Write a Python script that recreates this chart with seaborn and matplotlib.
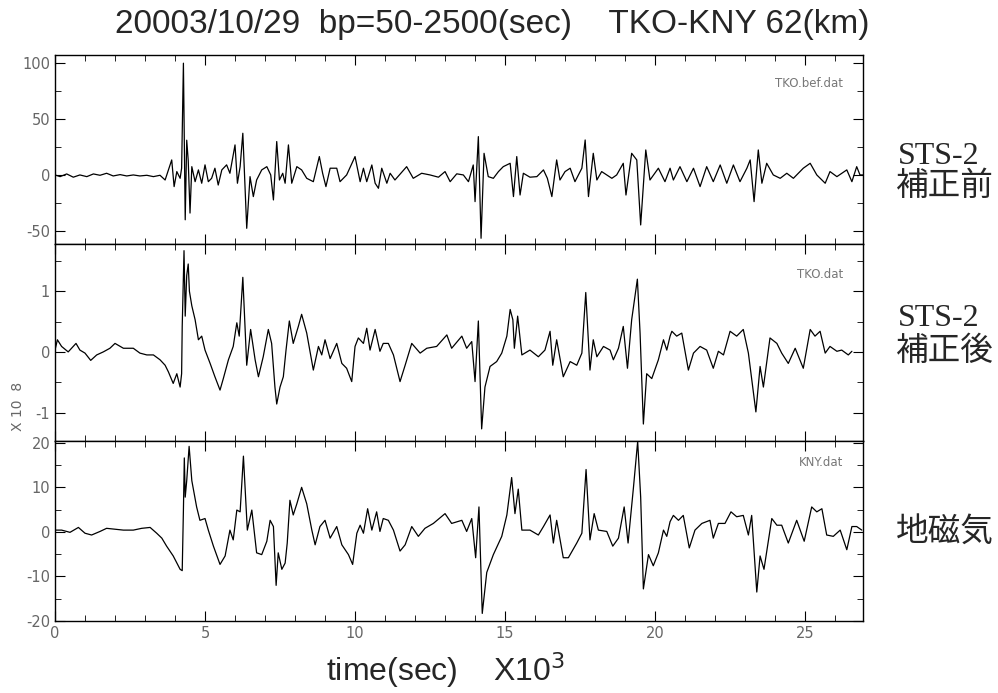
import matplotlib
matplotlib.use("Agg")
import matplotlib.pyplot as plt
from matplotlib.ticker import MultipleLocator
import seaborn as sns
import pandas as pd

# ---------------- data (time in units of 10^3 sec) ----------------
t_bef = [0, 0.17, 0.39, 0.61, 0.83, 1.06, 1.28, 1.5, 1.72, 1.94, 2.17, 2.39, 2.61, 2.83, 3.06, 3.28,
         3.5, 3.67, 3.78, 3.89, 3.97, 4.06, 4.17, 4.22, 4.28, 4.34, 4.39, 4.44, 4.5, 4.56, 4.67, 4.78,
         4.89, 5.0, 5.11, 5.22, 5.33, 5.44, 5.56, 5.72, 5.83, 6.0, 6.08, 6.17, 6.26, 6.39, 6.5, 6.61,
         6.72, 6.89, 7.06, 7.19, 7.28, 7.39, 7.48, 7.59, 7.67, 7.78, 7.89, 8.06, 8.22, 8.39, 8.61,
         8.81, 8.92, 9.03, 9.17,
         9.39, 9.5, 9.72, 10.0, 10.17, 10.28, 10.39, 10.56, 10.67, 10.78, 10.89, 11.06, 11.17, 11.33,
         11.72, 11.94, 12.22, 12.5, 12.78, 13.0, 13.17, 13.39, 13.61, 13.78, 13.94, 14.0, 14.11, 14.2,
         14.3, 14.44, 14.61, 14.78, 14.94, 15.17, 15.28, 15.39, 15.5, 15.61, 15.83, 16.06, 16.28,
         16.41, 16.56, 16.72, 16.83, 17.0, 17.17, 17.33, 17.56, 17.67, 17.78, 17.94, 18.06, 18.22,
         18.39, 18.56, 18.72, 18.94, 19.03, 19.22, 19.39, 19.52, 19.69, 19.83, 20.11, 20.33, 20.5,
         20.61, 20.83, 21.06, 21.28, 21.5, 21.72, 21.94, 22.17, 22.39, 22.61, 22.83, 23.06, 23.17,
         23.3, 23.44, 23.56, 23.72, 23.94, 24.17, 24.39, 24.61, 24.94, 25.17, 25.39, 25.67, 25.83,
         26.06, 26.39, 26.56, 26.72, 26.83, 26.94]
v_bef = [0, -1.5, 0.9, -2, 0, -1.5, 0.9, -0.3, 1.5, -0.9, 0.3, -0.9, 0, -0.9, -0.3, -1.5,
         -0.3, -4.5, 4.5, 13.4, -10.4, 3, -3, 6, 99.7, -40, 31, 13, -34, 7.4, -6, 4.5,
         -7.4, 9, -6, -3, 6, -9, 4.5, 9, 1.5, 26.8, -7.4, 7.4, 37.2, -47.6, -1.5, -19.3,
         -4.5, 4.5, 7.4, 0, -22.3, 29.8, -4.5, 1.5, -7.4, 26.8, -7.4, 7.4, 4.5, -3, -6,
         16.4, 1.5, -10.4, 6,
         6, -6, 0, 16.4, -6, 6, -6, 8.9, -7.4, -11.9, 6, -7.4, 1.5, -4.5,
         7.4, -3, 1.5, 0, -2, 3, -6, 1, 0, -6, 8.9, -23.8, 34.2, -56.5,
         19.3, -1.5, -3, 3, 7.4, 10.4, -19.3, 16.4, -17.9, 1.5, -2, -1.5, 4.5,
         -3, -19.3, 13.4, -4.5, 3, 6, -6, 6, 31.2, -19.3, 19.3, -4.5, 3,
         0, -3, 0, 10.4, -17.9, 19.3, 13.4, -44.6, 22.3, -4.5, 6, -6, 6,
         -4.5, 7.4, -6, 6, -10.4, 7.4, -6, 8.9, -7.4, 8.9, -6, 6, 13.4,
         -23.8, 22.3, -7.4, 10.4, 0, -3, 1.5, -3, 6, 10.4, 0, -7.4, 3,
         -1.5, 4.5, -6, 7.4, 0, 0]

t_tko = [0, 0.08, 0.22, 0.44, 0.7, 0.83, 1.0, 1.19, 1.39, 1.61, 1.83, 2.0, 2.28, 2.61, 2.83, 3.06,
         3.28, 3.5, 3.67, 3.78, 3.94, 4.06, 4.17, 4.22, 4.24, 4.3, 4.34, 4.39, 4.44, 4.48, 4.56,
         4.67, 4.78, 4.89, 5.0, 5.17, 5.33, 5.5, 5.61, 5.78, 5.94, 6.06, 6.14, 6.26, 6.39, 6.52,
         6.67, 6.78, 6.94, 7.11, 7.22, 7.33, 7.39, 7.5, 7.61, 7.7, 7.81, 7.94, 8.11, 8.22, 8.39,
         8.61, 8.78, 8.89, 9.0, 9.17,
         9.39, 9.56, 9.72, 9.89, 10.0, 10.11, 10.28, 10.39, 10.5, 10.67, 10.83, 10.94, 11.11, 11.28,
         11.5, 11.67, 11.89, 12.17, 12.39, 12.72, 13.06, 13.22, 13.56, 13.72, 13.89, 14.0, 14.11,
         14.22, 14.33, 14.5, 14.72, 14.89, 15.06, 15.17, 15.26, 15.31, 15.42, 15.56, 15.83, 16.11,
         16.33, 16.5, 16.59, 16.72, 16.94, 17.17, 17.39, 17.56, 17.69, 17.83, 17.94, 18.06, 18.28,
         18.5, 18.61, 18.78, 18.94, 19.08, 19.22, 19.41, 19.5, 19.61, 19.72, 19.89, 20.11, 20.28,
         20.39, 20.5,
         20.56, 20.72, 20.89, 21.11, 21.28, 21.5, 21.72, 21.94, 22.11, 22.28, 22.5, 22.72, 22.94,
         23.11, 23.36, 23.5, 23.61, 23.83, 24.06, 24.22, 24.44, 24.67, 24.94, 25.17, 25.33, 25.5,
         25.67, 25.83, 26.06, 26.22, 26.44, 26.56]
v_tko = [0.03, 0.2, 0.09, 0.0, 0.14, 0.03, -0.02, -0.14, -0.05, 0.0, 0.06, 0.14, 0.06, 0.06, -0.02, -0.05,
         -0.05, -0.13, -0.22, -0.33, -0.52, -0.36, -0.58, -0.36, 0.42, 1.67, 0.59, 1.26, 1.45, 1.0, 0.76,
         0.53, 0.2, 0.26, 0.03, -0.19, -0.41, -0.63, -0.44, -0.13, 0.09, 0.48, 0.26, 1.23, -0.22, 0.37,
         -0.13, -0.41, -0.08, 0.37, 0.14, -0.58, -0.86, -0.58, -0.41, 0.03, 0.51, 0.14, 0.42, 0.62, 0.31,
         -0.3, 0.09, -0.05, 0.2, -0.11,
         0.14, -0.19, -0.27, -0.49, 0.09, 0.23, 0.14, 0.39, 0.03, 0.37, 0.01, 0.14, 0.14, -0.05,
         -0.49, -0.22, 0.14, -0.02, 0.06, 0.09, 0.28, 0.06, 0.26, 0.06, 0.17, -0.49, 0.51,
         -1.27, -0.58, -0.24, -0.16, -0.02, 0.26, 0.7, 0.53, 0.06, 0.59, -0.05, 0.03, -0.08,
         0.03, 0.34, -0.22, 0.2, -0.41, -0.16, -0.22, -0.02, 0.98, -0.3, 0.2, -0.08, 0.09,
         0.03, -0.13, 0.06, 0.42, -0.27, 0.53, 1.2, 0.31, -1.19, -0.36, -0.44, -0.13, 0.2,
         0.03, 0.26,
         0.34, 0.26, 0.31, -0.3, -0.02, 0.09, 0.03, -0.27, 0.01, -0.05, 0.34, 0.26, 0.37,
         -0.02, -0.99, -0.24, -0.58, 0.23, 0.14, -0.02, -0.19, 0.06, -0.27, 0.37, 0.26, 0.34,
         -0.02, 0.09, 0.01, 0.03, -0.05, 0.01]

t_kny = [0, 0.22, 0.5, 0.78, 1.0, 1.22, 1.5, 1.72, 2.0, 2.28, 2.61, 2.89, 3.17, 3.39, 3.56, 3.72,
         3.94, 4.17, 4.24, 4.28, 4.31, 4.34, 4.39, 4.47, 4.56, 4.72, 4.83, 5.0, 5.11, 5.28, 5.5,
         5.67, 5.83, 5.94, 6.06, 6.17, 6.28, 6.41, 6.56, 6.72, 6.89, 7.06, 7.17, 7.28, 7.37, 7.44,
         7.56, 7.67, 7.74, 7.83, 7.94, 8.06, 8.22, 8.39, 8.56, 8.67, 8.83, 9.0, 9.17,
         9.39, 9.56, 9.78, 9.92, 10.06, 10.17, 10.28, 10.42, 10.56, 10.72, 10.83, 10.94, 11.11, 11.28,
         11.5, 11.67, 11.89, 12.11, 12.33, 12.61, 13.0, 13.22, 13.56, 13.72, 13.89, 14.02, 14.13,
         14.24, 14.39, 14.61, 14.89, 15.06, 15.22, 15.33, 15.44, 15.56, 15.83, 16.11, 16.28, 16.5,
         16.61, 16.72, 16.94, 17.11, 17.39, 17.56, 17.7, 17.83, 17.97, 18.11, 18.39, 18.59, 18.78,
         18.97, 19.1, 19.28, 19.42, 19.52, 19.61, 19.78, 19.94, 20.11, 20.28, 20.39, 20.5,
         20.61, 20.78, 20.94, 21.14, 21.33, 21.56, 21.83, 21.94, 22.11, 22.33, 22.53, 22.72, 22.94,
         23.11, 23.22, 23.39, 23.5, 23.63, 23.89, 24.06, 24.22, 24.44, 24.72, 24.97, 25.22, 25.39,
         25.56, 25.72, 25.94, 26.17, 26.39, 26.56, 26.72, 26.89]
v_kny = [0.4, 0.4, -0.1, 1.0, -0.3, -0.7, 0.1, 0.8, 0.6, 0.4, 0.4, 0.8, 1.0, -0.3, -1.4, -3.2,
         -5.4, -8.4, -8.7, 4.9, 16.6, 7.8, 11.5, 19.2, 11.5, 5.6, 2.6, 3.0, 0.4, -3.2, -7.3,
         -5.4, 0.4, -1.8, 4.9, 4.5, 17.0, 0.4, 4.9, -4.7, -5.1, -2.1, 2.6, 1.2, -12.0, -4.7,
         -8.4, -7.0, -2.5, 7.1, 3.8, 6.3, 10.0, 6.3, 0.4, -2.9, 1.2, 2.6, -1.4,
         1.2, -2.9, -5.1, -7.3, -0.3, 1.5, -0.3, 5.2, 0.4, 4.5, 0.1, 3.0, 2.6, 0.4,
         -4.3, -2.9, 1.2, -1.0, 0.8, 1.9, 4.1, 1.9, 2.6, 0.1, 3.0, -5.8, 5.6,
         -18.3, -9.1, -5.1, -1.0, 3.8, 12.2, 4.1, 9.6, 0.4, 0.4, -0.7, 1.2, 3.8,
         -2.5, 2.6, -5.8, -5.8, -2.5, -0.3, 14.0, -1.8, 4.1, 0.4, 0.1, -3.2, -1.4,
         5.6, -2.5, 10.0, 20.3, 7.8, -12.8, -5.1, -7.6, -4.7, 0.4, -1.0, 2.3,
         3.7, 2.6, 3.7, -3.6, 0.4, 1.9, 2.6, -1.4, 1.9, 1.9, 4.5, 3.4, 3.7,
         -0.7, 3.7, -13.5, -5.4, -8.4, 3.0, 1.5, 1.5, -2.5, 2.6, -2.1, 5.6, 4.5,
         5.2, -0.7, -1.0, 0.4, -4.0, 1.2, 1.2, 0.4]

file_labels = ["TKO.bef.dat", "TKO.dat", "KNY.dat"]
side_labels = [("STS-2", "補正前"), ("STS-2", "補正後"), (None, "地磁気")]
title_text = "20003/10/29  bp=50-2500(sec)    TKO-KNY 62(km)"
xlabel_text = "time(sec)    X10$^3$"
ylabel_text = "X 10  8"

# ---------------- figure ----------------
sns.set_style("ticks")
plt.rcParams['font.family'] = ['DejaVu Sans']
plt.rcParams['axes.unicode_minus'] = False
fig = plt.figure(figsize=(9.98, 6.93), dpi=100)

W = 998.0
H = 693.0
left = 55 / W
width = (863 - 55) / W
panels = [(55, 244), (244, 441), (441, 621)]
ylims = [(-61.6, 107.0), (-1.47, 1.78), (-20.0, 20.4)]
ymin = [25, 0.5, 5]
yticks = [[-50, 0, 50, 100], [-1, 0, 1], [-20, -10, 0, 10, 20]]
label_y = [0.85, 0.843, 0.878]
series = [(t_bef, v_bef), (t_tko, v_tko), (t_kny, v_kny)]

tick_col = "#666666"
axes = []
for i, ((ytop, ybot), (tt, vv)) in enumerate(zip(panels, series)):
    ax = fig.add_axes([left, 1 - ybot / H, width, (ybot - ytop) / H])
    df = pd.DataFrame({"t": tt, "v": vv})
    sns.lineplot(data=df, x="t", y="v", ax=ax, color="black", lw=0.9,
                 estimator=None, sort=False)
    ax.set_xlim(0, 26.93)
    ax.set_ylim(*ylims[i])
    ax.xaxis.set_major_locator(MultipleLocator(5))
    ax.xaxis.set_minor_locator(MultipleLocator(1))
    ax.set_yticks(yticks[i])
    ax.yaxis.set_minor_locator(MultipleLocator(ymin[i]))
    ax.tick_params(which="both", direction="in", top=True, right=True,
                   colors="black", labelcolor=tick_col, labelsize=10.5)
    ax.tick_params(which="major", length=7, width=0.8)
    ax.tick_params(which="minor", length=4, width=0.6)
    ax.set_xlabel("")
    ax.set_ylabel("")
    for s in ax.spines.values():
        s.set_color("black")
        s.set_linewidth(1.0)
    if i < 2:
        ax.tick_params(labelbottom=False)
    ax.text(0.975, label_y[i], file_labels[i], transform=ax.transAxes, ha="right", va="center",
            fontsize=8.5, color="#777777")
    axes.append(ax)

# ylabel of middle panel
fig.text(18 / W, 1 - 406 / H, ylabel_text, rotation=90, ha="center", va="center",
         fontsize=10, color=tick_col)

# title and x label
fig.text(0.493, 1 - 24 / H, title_text, ha="center", va="center", fontsize=24,
         family=["Liberation Sans", "DejaVu Sans"])
fig.text(0.446, 1 - 670 / H, xlabel_text, ha="center", va="center",
         fontsize=23, family=["Liberation Sans", "DejaVu Sans"])

# side labels
side_y = [(156, 186), (319, 351), (None, 532)]
for (l1, l2), (y1, y2) in zip(side_labels, side_y):
    if l1 is not None:
        fig.text(898 / W, 1 - y1 / H, l1, ha="left", va="center", fontsize=23,
                 family=["Liberation Serif", "DejaVu Serif"])
    fig.text(896 / W, 1 - y2 / H, l2, ha="left", va="center", fontsize=23.5,
             family=["Noto Sans CJK JP", "DejaVu Sans"])

fig.savefig("out.png", dpi=100)
